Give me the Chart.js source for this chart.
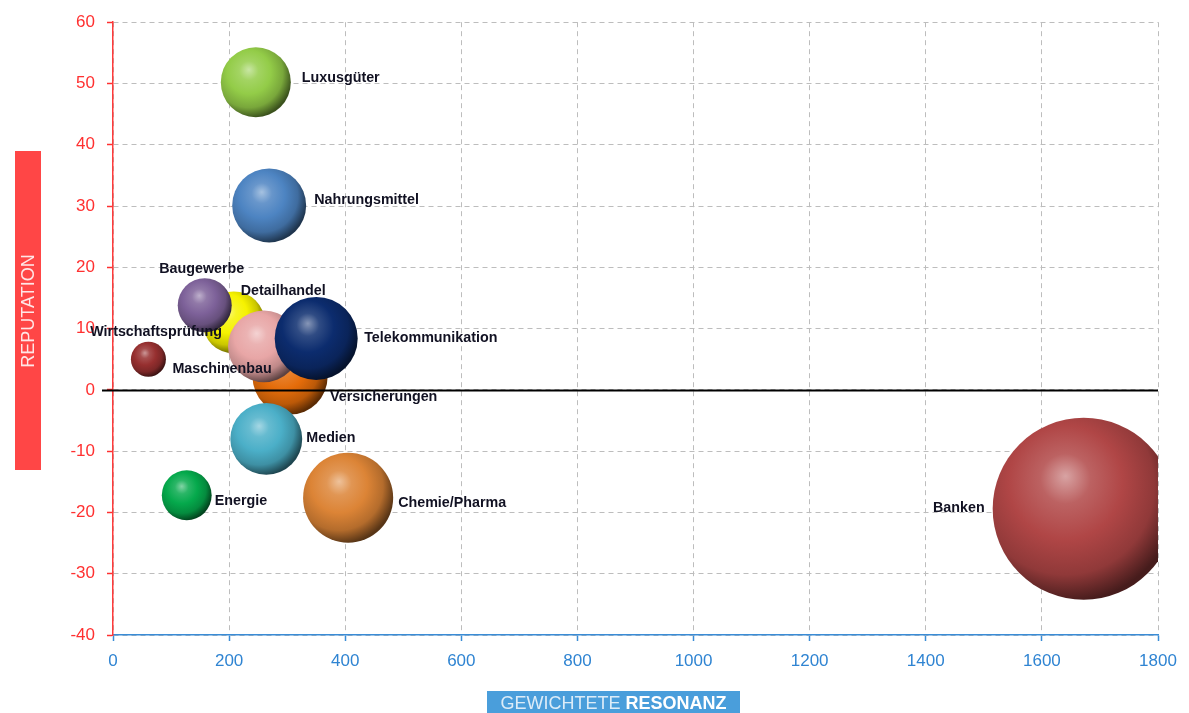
<!DOCTYPE html>
<html>
<head>
<meta charset="utf-8">
<title>Reputation vs. gewichtete Resonanz</title>
<script src="https://cdn.jsdelivr.net/npm/chart.js@4.4.1/dist/chart.umd.min.js"></script>
<style>
  html, body { margin: 0; padding: 0; background: #fff; }
  #wrap { width: 1189px; height: 713px; position: relative; }
</style>
</head>
<body>
<div id="wrap"><canvas id="bubbleChart"></canvas></div>
<script>
  // data (drawing order = array order)
  const branchen = ['Banken', 'Chemie/Pharma', 'Versicherungen', 'Detailhandel', 'Baugewerbe',
    'Wirtschaftsprüfung', 'Telekommunikation', 'Medien', 'Energie', 'Maschinenbau',
    'Luxusgüter', 'Nahrungsmittel'];
  const resonanz   = [1672, 405, 305, 208, 158, 260, 350, 264, 127, 61, 246, 269];
  const reputation = [-19.4, -17.6, 2.1, 11.0, 13.8, 7.1, 8.4, -8.0, -17.2, 5.0, 50.2, 30.1];
  const volumen    = [100, 24.5, 17.0, 11.6, 8.8, 15.6, 20.8, 15.6, 7.5, 3.7, 14.8, 16.5];

  const xMin = 0, xMax = 1800, xStep = 200;
  const yMin = -40, yMax = 60, yStep = 10;

  // styles
  const farben = ['#b04646', '#dc8436', '#e46c0a', '#f6f200', '#7d6199', '#e8a6a6',
    '#0c2c6e', '#4bafc8', '#05a94c', '#962f2f', '#93cc48', '#4d84c2'];
  const maxRadius = 91;
  // label placement: [align, dx, dy] relative to bubble centre in px
  const labelPos = {
    'Banken': ['right', -99, -1],
    'Chemie/Pharma': ['left', 50, 5],
    'Versicherungen': ['left', 40, 20],
    'Detailhandel': ['left', 7, -31],
    'Baugewerbe': ['center', -3, -36],
    'Wirtschaftsprüfung': ['right', -42, -14],
    'Telekommunikation': ['left', 48, 0],
    'Medien': ['left', 40, -1],
    'Energie': ['left', 28, 6],
    'Maschinenbau': ['left', 24, 10],
    'Luxusgüter': ['left', 46, -4],
    'Nahrungsmittel': ['left', 45, -5]
  };

  Chart.defaults.font.family = "'Liberation Sans', Arial, sans-serif";

  function hexRgb(hex) {
    const n = parseInt(hex.slice(1), 16);
    return [(n >> 16) & 255, (n >> 8) & 255, n & 255];
  }
  function mix(hex, target, amount) {
    const c = hexRgb(hex);
    const m = c.map((v, i) => Math.round(v + (target[i] - v) * amount));
    return 'rgb(' + m.join(',') + ')';
  }

  // glossy sphere fill, built per bubble
  function kugel(c) {
    const base = farben[c.dataIndex % farben.length];
    const chart = c.chart;
    if (c.type !== 'data' || !chart.chartArea) return base;
    const xs = chart.scales.x, ys = chart.scales.y;
    const cx = xs.getPixelForValue(c.raw.x);
    const cy = ys.getPixelForValue(c.raw.y);
    const r = c.raw.r;
    const g = chart.ctx.createRadialGradient(cx - r * 0.2, cy - r * 0.36, 0, cx - r * 0.2, cy - r * 0.22, r * 1.25);
    g.addColorStop(0, mix(base, [255, 255, 255], 0.5));
    g.addColorStop(0.22, mix(base, [255, 255, 255], 0.15));
    g.addColorStop(0.5, base);
    g.addColorStop(0.78, mix(base, [0, 0, 0], 0.18));
    g.addColorStop(1, mix(base, [0, 0, 0], 0.6));
    return g;
  }

  const punkte = branchen.map((b, i) => ({
    x: resonanz[i],
    y: reputation[i],
    r: maxRadius * Math.sqrt(volumen[i] / 100)
  }));

  const zeroLine = {
    id: 'zeroLine',
    afterDatasetsDraw(chart) {
      const {ctx, chartArea, scales} = chart;
      const y = Math.round(scales.y.getPixelForValue(0)) + 0.5;
      ctx.save();
      ctx.strokeStyle = '#000';
      ctx.lineWidth = 2;
      ctx.beginPath();
      ctx.moveTo(chartArea.left - 11, y);
      ctx.lineTo(chartArea.right, y);
      ctx.stroke();
      ctx.restore();
    }
  };

  const bubbleLabels = {
    id: 'bubbleLabels',
    afterDatasetsDraw(chart) {
      const ctx = chart.ctx;
      const meta = chart.getDatasetMeta(0);
      ctx.save();
      ctx.font = "bold 14.3px 'Liberation Sans', Arial, sans-serif";
      ctx.fillStyle = '#111122';
      ctx.textBaseline = 'middle';
      meta.data.forEach((el, i) => {
        const p = labelPos[branchen[i]];
        ctx.textAlign = p[0];
        ctx.fillText(branchen[i], el.x + p[1], el.y + p[2]);
      });
      ctx.restore();
    }
  };

  const axisTitles = {
    id: 'axisTitles',
    afterDraw(chart) {
      const ctx = chart.ctx;
      ctx.save();
      // y title
      ctx.fillStyle = '#ff4646';
      ctx.fillRect(15, 151, 26, 319);
      ctx.translate(28, 311);
      ctx.rotate(-Math.PI / 2);
      ctx.fillStyle = '#ffe6e6';
      ctx.font = "18px 'Liberation Sans', Arial, sans-serif";
      ctx.textAlign = 'center';
      ctx.textBaseline = 'middle';
      ctx.fillText('REPUTATION', 0, 1);
      ctx.restore();

      // x title
      ctx.save();
      ctx.fillStyle = '#4a9edb';
      ctx.fillRect(487, 691, 253, 22);
      const t1 = 'GEWICHTETE ', t2 = 'RESONANZ';
      ctx.font = "18px 'Liberation Sans', Arial, sans-serif";
      const w1 = ctx.measureText(t1).width;
      ctx.font = "bold 18px 'Liberation Sans', Arial, sans-serif";
      const w2 = ctx.measureText(t2).width;
      let x = 613.5 - (w1 + w2) / 2;
      ctx.textBaseline = 'middle';
      ctx.textAlign = 'left';
      ctx.font = "18px 'Liberation Sans', Arial, sans-serif";
      ctx.fillStyle = '#dcecf8';
      ctx.fillText(t1, x, 704);
      ctx.font = "bold 18px 'Liberation Sans', Arial, sans-serif";
      ctx.fillStyle = '#ffffff';
      ctx.fillText(t2, x + w1, 704);
      ctx.restore();
    }
  };

  new Chart(document.getElementById('bubbleChart'), {
    type: 'bubble',
    data: {
      datasets: [{
        label: 'Branchen',
        data: punkte,
        backgroundColor: kugel,
        borderWidth: 0,
        hoverBorderWidth: 0
      }]
    },
    options: {
      responsive: true,
      maintainAspectRatio: false,
      animation: false,
      layout: { autoPadding: false, padding: { left: 0, right: 31, top: 17, bottom: 0 } },
      plugins: {
        legend: { display: false },
        tooltip: { enabled: false }
      },
      scales: {
        x: {
          type: 'linear',
          min: xMin, max: xMax,
          afterFit: s => { s.height = 78; },
          ticks: { stepSize: xStep, color: '#2f84d2', font: { size: 17 }, padding: 10, callback: v => String(v) },
          grid: { color: '#bdbdbd', lineWidth: 1, tickLength: 6, tickColor: '#3a8cd6', tickWidth: 1.5 },
          border: { display: true, color: '#3a8cd6', width: 1.5, dash: [5, 4] }
        },
        y: {
          type: 'linear',
          min: yMin, max: yMax,
          afterFit: s => { s.width = 113; },
          ticks: { stepSize: yStep, color: '#ff3030', font: { size: 17 }, padding: 12 },
          grid: { color: '#bdbdbd', lineWidth: 1, tickLength: 6, tickColor: '#ff3030', tickWidth: 1.5 },
          border: { display: true, color: '#ff3b3b', width: 1.5, dash: [5, 4] }
        }
      }
    },
    plugins: [zeroLine, bubbleLabels, axisTitles]
  });
</script>
</body>
</html>
